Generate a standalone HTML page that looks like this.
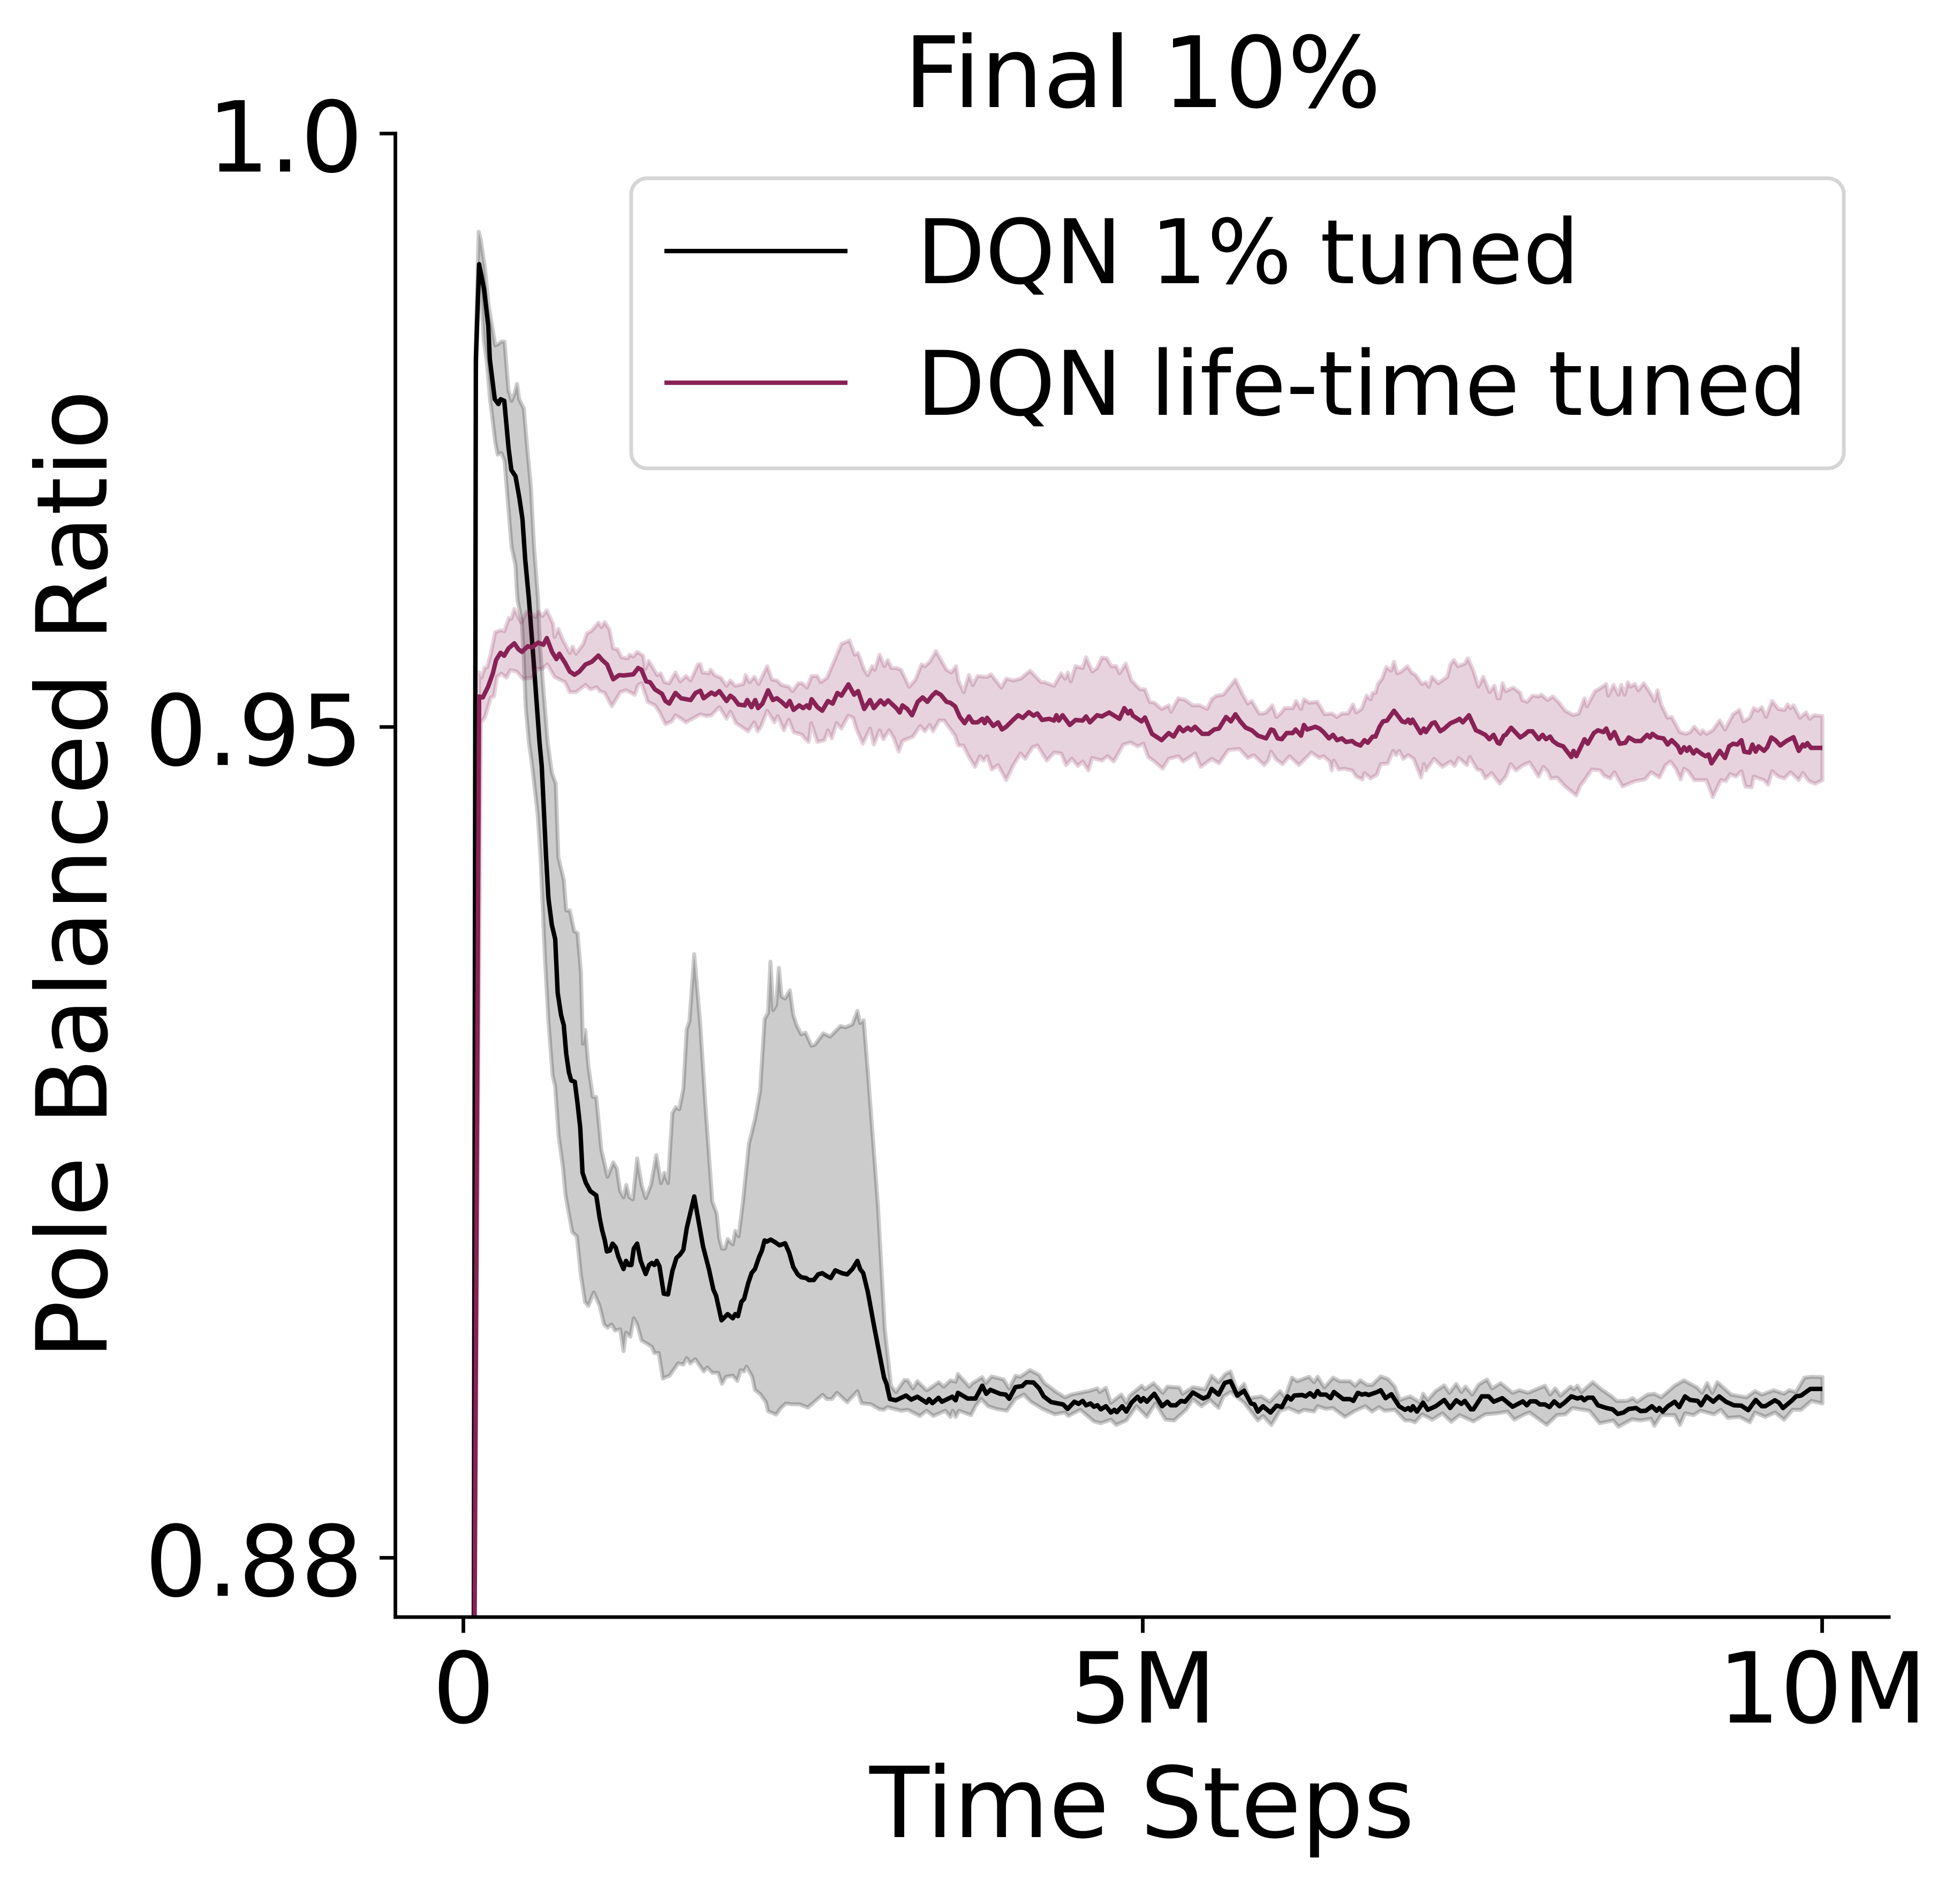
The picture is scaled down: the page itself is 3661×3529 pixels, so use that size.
<!DOCTYPE html>
<html lang="en">
<head>
<meta charset="utf-8">
<title>Final 10%</title>
<style>
html,body{margin:0;padding:0;background:#fff;width:3661px;height:3529px;overflow:hidden}
svg{display:block}
text{font-family:"DejaVu Sans","Liberation Sans",sans-serif;fill:#000}
</style>
</head>
<body>
<svg id="chart" xmlns="http://www.w3.org/2000/svg" width="3661" height="3529" viewBox="0 0 3661 3529">
<defs><clipPath id="plot-clip"><rect x="738" y="249" width="2790" height="2772"/></clipPath></defs>
<rect x="0" y="0" width="3661" height="3529" fill="#fff"/>
<g id="series" clip-path="url(#plot-clip)"></g>
<g id="axes"></g>
<text x="2134" y="200" font-size="184" text-anchor="middle">Final 10%</text>
<text x="2133" y="3432" font-size="183" text-anchor="middle">Time Steps</text>
<text x="0" y="0" transform="translate(199,1634) rotate(-90)" font-size="183" text-anchor="middle">Pole Balanced Ratio</text>
<g>
<rect x="1179" y="333" width="2265" height="542" rx="30" ry="30" fill="#fff" fill-opacity="0.8" stroke="#d5d5d5" stroke-width="7"/>
<line x1="1241" y1="469" x2="1583" y2="469" stroke="#000" stroke-width="8.3"/>
<text x="1712" y="529" font-size="166.5">DQN 1% tuned</text>
<line x1="1241" y1="715" x2="1583" y2="715" stroke="#882255" stroke-width="8.3"/>
<text x="1712" y="775" font-size="166.5">DQN life-time tuned</text>
</g>
</svg>
<script>
// Tick data: time steps in millions, y values as ratios
var xTickValues = [0, 5, 10];
var xTickLabels = ["0", "5M", "10M"];
var yTickValues = [1.0, 0.95, 0.88];
var yTickLabels = ["1.0", "0.95", "0.88"];

// Each series: [time steps in millions, pole balanced ratio]
var meanOnePercent = [[.075,.87405],[.09,.981],[.114,.98899],[.15,.98691],[.181,.9838],[.193,.98096],[.229,.97762],[.256,.97721],[.272,.97762],[.299,.97748],[.331,.97346],[.351,.97166],[.382,.97112],[.41,.96931],[.433,.96751],[.453,.96412],[.481,.96069],[.516,.95541],[.536,.95225],[.559,.94864],[.575,.9467],[.607,.93903],[.624,.93558],[.649,.93333],[.674,.93212],[.692,.92763],[.717,.92574],[.737,.92487],[.755,.92246],[.775,.9209],[.792,.92021],[.818,.92011],[.838,.91831],[.858,.91624],[.875,.91244],[.9,.91158],[.933,.91089],[.976,.91054],[1.001,.90864],[1.019,.90761],[1.039,.90674],[1.054,.90581],[1.076,.90588],[1.096,.90647],[1.119,.90616],[1.139,.90536],[1.177,.90433],[1.195,.90502],[1.215,.90467],[1.235,.90467],[1.252,.90605],[1.277,.90647],[1.303,.90502],[1.34,.90391],[1.365,.90467],[1.385,.90485],[1.403,.90467],[1.421,.90502],[1.441,.90457],[1.473,.90225],[1.504,.90219],[1.536,.90415],[1.566,.90526],[1.592,.90554],[1.617,.90595],[1.642,.90778],[1.697,.91044],[1.73,.9083],[1.762,.90623],[1.805,.90433],[1.838,.9026],[1.858,.90208],[1.898,.90001],[1.943,.90053],[1.981,.90018],[1.999,.90053],[2.019,.90036],[2.044,.90156],[2.064,.90181],[2.094,.90312],[2.119,.90398],[2.144,.90433],[2.175,.90536],[2.195,.90588],[2.215,.90674],[2.232,.90664],[2.26,.90681],[2.295,.90657],[2.325,.90633],[2.366,.9065],[2.396,.90571],[2.426,.9045],[2.459,.90388],[2.484,.90364],[2.521,.90357],[2.541,.9034],[2.577,.9034],[2.609,.90388],[2.64,.90398],[2.672,.90374],[2.702,.90357],[2.735,.90422],[2.785,.90398],[2.823,.90388],[2.861,.90433],[2.898,.90502],[2.918,.90433],[2.941,.90398],[2.974,.90243],[3.024,.89932],[3.094,.89518],[3.112,.89466],[3.137,.89338],[3.181,.89327],[3.256,.89367],[3.294,.89333],[3.339,.89357],[3.407,.89307],[3.425,.89337],[3.45,.89303],[3.495,.89348],[3.52,.89315],[3.596,.89357],[3.621,.89327],[3.638,.8939],[3.709,.89342],[3.767,.89342],[3.817,.8945],[3.847,.89382],[3.877,.89415],[3.947,.89382],[3.99,.89375],[4.015,.8934],[4.061,.89438],[4.111,.89447],[4.141,.8948],[4.194,.89477],[4.236,.89427],[4.269,.8936],[4.324,.89312],[4.412,.89292],[4.445,.89254],[4.495,.89315],[4.525,.89297],[4.556,.89322],[4.581,.89285],[4.613,.893],[4.639,.89273],[4.664,.89285],[4.689,.89251],[4.727,.89277],[4.764,.89224],[4.789,.89247],[4.807,.89227],[4.847,.89277],[4.877,.89232],[4.915,.89307],[4.96,.89357],[4.983,.89318],[5.003,.89345],[5.028,.89315],[5.083,.89382],[5.141,.89277],[5.179,.89315],[5.204,.89285],[5.242,.89285],[5.279,.89322],[5.31,.89315],[5.367,.89393],[5.443,.89342],[5.48,.8936],[5.505,.89423],[5.556,.89375],[5.601,.89473],[5.644,.89488],[5.694,.89367],[5.744,.89408],[5.795,.893],[5.82,.89292],[5.845,.89232],[5.883,.89277],[5.938,.89224],[5.983,.89282],[6.021,.8927],[6.063,.8936],[6.089,.89333],[6.114,.89367],[6.171,.89372],[6.197,.8936],[6.229,.89387],[6.259,.89357],[6.285,.89405],[6.305,.89375],[6.347,.89375],[6.38,.89345],[6.405,.89397],[6.473,.89337],[6.523,.89337],[6.548,.89322],[6.581,.8939],[6.611,.89375],[6.636,.89382],[6.661,.89372],[6.724,.89397],[6.749,.89412],[6.785,.89345],[6.828,.89378],[6.885,.89277],[6.928,.89247],[6.953,.89262],[6.971,.89242],[6.986,.89277],[7.016,.89232],[7.061,.89307],[7.096,.89247],[7.154,.89277],[7.217,.8933],[7.26,.89262],[7.305,.89327],[7.343,.89297],[7.368,.89322],[7.413,.89251],[7.431,.89251],[7.493,.8936],[7.544,.8936],[7.581,.89315],[7.644,.89345],[7.72,.89273],[7.795,.89318],[7.825,.89285],[7.85,.89318],[7.891,.89318],[7.921,.89292],[7.958,.89292],[7.991,.8927],[8.026,.89318],[8.066,.89277],[8.102,.89307],[8.152,.8936],[8.197,.89342],[8.227,.89352],[8.247,.89327],[8.272,.89349],[8.31,.89349],[8.348,.89285],[8.411,.89262],[8.456,.89251],[8.494,.89212],[8.536,.89224],[8.574,.89254],[8.629,.89262],[8.662,.89236],[8.7,.89239],[8.745,.89277],[8.78,.89239],[8.8,.89262],[8.825,.89232],[8.863,.89277],[8.913,.89315],[8.946,.8927],[8.989,.8936],[9.026,.8933],[9.082,.89322],[9.107,.89285],[9.147,.8936],[9.197,.89315],[9.24,.8936],[9.29,.89315],[9.348,.89285],[9.403,.89282],[9.454,.89244],[9.509,.8933],[9.554,.89277],[9.579,.89277],[9.65,.89327],[9.68,.89307],[9.71,.89262],[9.78,.8933],[9.805,.8936],[9.843,.89367],[9.911,.89423],[10,.89423]];

var upperOnePercent = [[.075,.87405],[.09,.983],[.111,.99172],[.126,.99107],[.156,.98874],[.183,.98563],[.201,.98434],[.233,.98214],[.255,.98227],[.278,.98247],[.301,.98247],[.33,.97838],[.353,.97748],[.375,.97812],[.393,.9789],[.409,.97761],[.443,.97683],[.466,.97372],[.495,.97022],[.518,.96517],[.548,.96069],[.56,.95722],[.587,.95316],[.619,.94864],[.65,.94612],[.678,.94521],[.697,.93903],[.737,.93713],[.755,.93454],[.782,.93454],[.813,.93281],[.838,.93264],[.863,.92936],[.878,.92332],[.895,.92446],[.918,.92142],[.951,.91883],[.976,.91883],[1.014,.91434],[1.059,.9121],[1.102,.91331],[1.127,.91279],[1.152,.91089],[1.177,.91037],[1.197,.91141],[1.22,.91037],[1.245,.9102],[1.277,.91365],[1.31,.91141],[1.34,.9103],[1.378,.91141],[1.418,.91393],[1.453,.91158],[1.478,.91244],[1.504,.91158],[1.536,.91745],[1.561,.91797],[1.587,.91779],[1.617,.91952],[1.642,.92453],[1.662,.92522],[1.697,.93085],[1.742,.92487],[1.78,.91797],[1.83,.91002],[1.863,.90899],[1.881,.90692],[1.901,.90605],[1.923,.90605],[1.943,.90685],[1.981,.9064],[1.999,.90754],[2.024,.90709],[2.056,.91002],[2.099,.91486],[2.144,.91693],[2.182,.91935],[2.215,.92539],[2.24,.92591],[2.258,.93023],[2.278,.92615],[2.3,.9266],[2.32,.92971],[2.34,.92729],[2.366,.92712],[2.401,.92781],[2.426,.92574],[2.451,.92487],[2.484,.92411],[2.516,.92425],[2.559,.92315],[2.584,.92322],[2.647,.92418],[2.697,.92391],[2.735,.92435],[2.773,.9248],[2.81,.9247],[2.861,.92494],[2.898,.92608],[2.918,.92505],[2.944,.92529],[2.974,.92107],[3.049,.90968],[3.099,.89932],[3.145,.89449],[3.181,.89397],[3.244,.89498],[3.269,.89495],[3.307,.89427],[3.339,.89488],[3.407,.89412],[3.432,.89427],[3.495,.8948],[3.533,.89442],[3.583,.89495],[3.621,.89483],[3.638,.89548],[3.721,.89442],[3.746,.89472],[3.817,.89522],[3.842,.89472],[3.885,.89528],[3.973,.89503],[4.015,.89427],[4.061,.89533],[4.098,.89525],[4.168,.89582],[4.236,.8954],[4.274,.89472],[4.319,.89435],[4.362,.89397],[4.425,.89352],[4.47,.89375],[4.563,.89397],[4.601,.89405],[4.664,.89427],[4.681,.89397],[4.727,.89432],[4.764,.89307],[4.84,.89375],[4.877,.89307],[4.902,.89367],[4.99,.8945],[5.015,.8942],[5.078,.89472],[5.146,.8939],[5.179,.89442],[5.267,.89435],[5.292,.89382],[5.367,.89438],[5.457,.8942],[5.505,.89533],[5.556,.8948],[5.606,.89548],[5.644,.8957],[5.694,.89405],[5.744,.89465],[5.782,.89345],[5.87,.8936],[5.933,.89315],[6.008,.89405],[6.046,.89352],[6.096,.89518],[6.134,.89488],[6.222,.89525],[6.259,.8948],[6.285,.89525],[6.335,.89435],[6.398,.89518],[6.448,.89488],[6.523,.89488],[6.561,.8945],[6.599,.89495],[6.649,.89457],[6.687,.89457],[6.749,.89528],[6.802,.89507],[6.853,.89442],[6.89,.8933],[6.966,.8936],[7.041,.89307],[7.061,.89382],[7.096,.8933],[7.154,.89405],[7.217,.89453],[7.255,.8939],[7.305,.89465],[7.343,.89397],[7.373,.89442],[7.423,.89375],[7.468,.89457],[7.531,.89502],[7.569,.89427],[7.632,.89472],[7.72,.8939],[7.77,.89412],[7.833,.8939],[7.958,.8945],[7.996,.89375],[8.034,.89427],[8.072,.89367],[8.147,.89442],[8.172,.8942],[8.197,.8945],[8.227,.89397],[8.31,.8948],[8.373,.8942],[8.448,.8936],[8.486,.89322],[8.562,.89322],[8.604,.89345],[8.637,.89315],[8.675,.89345],[8.713,.89375],[8.763,.89382],[8.813,.89352],[8.913,.8945],[8.981,.89495],[9.077,.89435],[9.114,.8939],[9.152,.89472],[9.19,.8939],[9.227,.8948],[9.328,.89375],[9.441,.89352],[9.504,.89405],[9.554,.89375],[9.642,.89412],[9.717,.89382],[9.755,.89412],[9.805,.89397],[9.868,.89518],[9.918,.89525],[10,.89522]];

var lowerOnePercent = [[.075,.87405],[.09,.979],[.114,.989],[.149,.98255],[.171,.98071],[.194,.97761],[.217,.97553],[.233,.97398],[.251,.97295],[.278,.97308],[.301,.97242],[.323,.96932],[.353,.96517],[.382,.96362],[.391,.9616],[.397,.96069],[.429,.9588],[.441,.95618],[.457,.95167],[.481,.94864],[.5,.94715],[.545,.94264],[.566,.93903],[.599,.9304],[.624,.92522],[.654,.92073],[.674,.91969],[.699,.91555],[.732,.91279],[.75,.91054],[.78,.90864],[.8,.90743],[.833,.90709],[.863,.90381],[.893,.90156],[.918,.90122],[.958,.90236],[1.001,.90122],[1.034,.89966],[1.059,.89939],[1.089,.89966],[1.114,.89915],[1.152,.89925],[1.177,.89742],[1.195,.89897],[1.227,.89863],[1.252,.90018],[1.277,.89966],[1.31,.89829],[1.34,.89811],[1.386,.89777],[1.403,.89725],[1.436,.89725],[1.466,.89511],[1.516,.89535],[1.579,.89638],[1.617,.89628],[1.642,.89683],[1.667,.89638],[1.705,.89673],[1.767,.8957],[1.793,.89604],[1.83,.89559],[1.873,.89559],[1.901,.89466],[1.931,.89525],[1.981,.89535],[2.014,.8949],[2.039,.8958],[2.064,.8957],[2.082,.89611],[2.124,.89525],[2.144,.89414],[2.182,.8938],[2.225,.89311],[2.24,.89235],[2.3,.89207],[2.333,.89259],[2.371,.893],[2.421,.89293],[2.471,.89293],[2.534,.89266],[2.642,.89373],[2.672,.89338],[2.71,.89338],[2.748,.8939],[2.823,.8931],[2.898,.89403],[2.928,.89303],[2.998,.89293],[3.059,.89252],[3.092,.89247],[3.119,.8927],[3.219,.89239],[3.269,.89247],[3.357,.89195],[3.407,.89239],[3.457,.89195],[3.545,.89239],[3.583,.89187],[3.6,.89239],[3.621,.89187],[3.646,.89239],[3.734,.89202],[3.771,.89285],[3.809,.89337],[3.86,.89277],[3.922,.89254],[3.998,.89239],[4.06,.89337],[4.123,.89375],[4.174,.89315],[4.262,.89254],[4.35,.89209],[4.425,.89224],[4.45,.89195],[4.538,.89247],[4.639,.89149],[4.689,.89134],[4.764,.89164],[4.802,.89119],[4.877,.89157],[4.952,.89277],[5.028,.89187],[5.091,.893],[5.166,.89164],[5.229,.89157],[5.317,.89247],[5.367,.89337],[5.43,.89277],[5.493,.8933],[5.556,.89262],[5.593,.8936],[5.644,.89397],[5.744,.89307],[5.845,.89157],[5.883,.89195],[5.945,.89119],[6.008,.89239],[6.071,.89262],[6.146,.89224],[6.184,.89247],[6.259,.89232],[6.285,.89277],[6.347,.89254],[6.397,.89262],[6.486,.89187],[6.561,.89239],[6.636,.89277],[6.686,.89232],[6.736,.89269],[6.778,.89239],[6.853,.89247],[6.928,.89157],[6.966,.89157],[7.003,.89142],[7.054,.89209],[7.129,.89164],[7.204,.89217],[7.268,.89146],[7.33,.89202],[7.431,.89149],[7.519,.89209],[7.606,.89217],[7.682,.89232],[7.732,.89164],[7.808,.89209],[7.845,.89224],[7.971,.89119],[8.046,.89202],[8.109,.89209],[8.159,.89262],[8.285,.89239],[8.36,.89134],[8.461,.89157],[8.499,.89104],[8.599,.89167],[8.662,.89157],[8.737,.89172],[8.763,.89112],[8.813,.89202],[8.913,.89202],[8.951,.89119],[8.989,.89217],[9.052,.89202],[9.102,.89239],[9.202,.89209],[9.252,.89247],[9.303,.89179],[9.391,.89187],[9.466,.89142],[9.504,.89224],[9.579,.89187],[9.652,.89224],[9.718,.89164],[9.78,.89247],[9.843,.89247],[9.919,.89322],[10,.893]];

var meanLifetime = [[.0804,.87405],[.114,.95257],[.141,.95249],[.18,.9534],[.215,.95452],[.239,.95565],[.272,.95625],[.298,.956],[.331,.95663],[.373,.95705],[.403,.95655],[.429,.95633],[.473,.95681],[.502,.9567],[.548,.95711],[.587,.95693],[.612,.95749],[.651,.95632],[.683,.95572],[.704,.95617],[.746,.95542],[.781,.95467],[.816,.9544],[.852,.95467],[.897,.95527],[.943,.95549],[.992,.95602],[1.02,.95564],[1.056,.95527],[1.101,.95402],[1.144,.95437],[1.179,.95434],[1.249,.95444],[1.284,.95497],[1.309,.95482],[1.344,.95384],[1.372,.95377],[1.408,.95317],[1.46,.95279],[1.485,.95219],[1.513,.95197],[1.559,.95287],[1.601,.95242],[1.671,.95227],[1.707,.95287],[1.742,.95305],[1.766,.95242],[1.823,.9529],[1.851,.95272],[1.882,.95302],[1.935,.95219],[1.963,.95264],[1.988,.95242],[2.023,.95189],[2.069,.95182],[2.087,.95227],[2.118,.95167],[2.146,.95227],[2.167,.95159],[2.199,.95197],[2.241,.95309],[2.276,.95227],[2.305,.95242],[2.34,.95212],[2.375,.95174],[2.4,.95219],[2.428,.95144],[2.47,.95182],[2.498,.95159],[2.526,.95182],[2.544,.95159],[2.561,.95234],[2.604,.95167],[2.639,.95137],[2.681,.95219],[2.716,.95197],[2.751,.95287],[2.78,.95264],[2.832,.95359],[2.874,.95272],[2.903,.95302],[2.948,.95152],[2.991,.95227],[3.019,.95159],[3.068,.95224],[3.096,.95189],[3.124,.95224],[3.184,.95159],[3.209,.95122],[3.23,.95182],[3.265,.95152],[3.3,.95099],[3.342,.95212],[3.378,.95249],[3.413,.95212],[3.448,.95264],[3.476,.95294],[3.511,.95272],[3.554,.95212],[3.582,.95204],[3.617,.95174],[3.652,.95084],[3.687,.95032],[3.719,.95089],[3.747,.95039],[3.782,.95039],[3.817,.95069],[3.835,.95032],[3.852,.95077],[3.898,.95009],[3.933,.95039],[3.962,.94979],[3.993,.95002],[4.046,.95062],[4.081,.95099],[4.116,.95077],[4.159,.95125],[4.194,.95095],[4.222,.95114],[4.257,.95059],[4.31,.95069],[4.345,.95054],[4.363,.95099],[4.38,.95054],[4.408,.95099],[4.461,.95017],[4.503,.95059],[4.556,.95054],[4.581,.95089],[4.609,.95039],[4.662,.95099],[4.697,.95089],[4.75,.95122],[4.827,.95069],[4.862,.95159],[4.89,.95114],[4.908,.95137],[4.926,.95095],[4.989,.95047],[5.014,.9508],[5.066,.94942],[5.137,.94889],[5.189,.94949],[5.225,.94919],[5.267,.94999],[5.295,.94964],[5.33,.94994],[5.355,.94972],[5.383,.95002],[5.436,.94942],[5.481,.94942],[5.524,.94979],[5.559,.94987],[5.611,.95084],[5.647,.95047],[5.68,.95107],[5.716,.95047],[5.756,.94994],[5.801,.94972],[5.846,.94927],[5.906,.94904],[5.942,.94979],[5.961,.94972],[5.991,.94904],[6.021,.94897],[6.057,.94949],[6.102,.94949],[6.123,.94979],[6.163,.94927],[6.184,.95017],[6.208,.94979],[6.238,.9499],[6.268,.95002],[6.298,.94987],[6.328,.94957],[6.368,.94904],[6.398,.94934],[6.428,.94889],[6.464,.94904],[6.494,.94874],[6.539,.94882],[6.564,.94859],[6.6,.94844],[6.63,.94889],[6.654,.94867],[6.69,.94919],[6.711,.94919],[6.741,.95002],[6.766,.95047],[6.796,.95054],[6.847,.95137],[6.877,.95092],[6.907,.95047],[6.931,.95039],[6.952,.95062],[6.968,.95032],[6.983,.95062],[7.043,.94949],[7.067,.94987],[7.082,.94957],[7.127,.95032],[7.148,.95039],[7.188,.94964],[7.218,.94987],[7.263,.95032],[7.308,.95054],[7.329,.95069],[7.353,.95039],[7.399,.95099],[7.45,.94972],[7.48,.94957],[7.519,.94934],[7.549,.94897],[7.58,.94934],[7.61,.94867],[7.625,.94859],[7.655,.94927],[7.67,.94934],[7.709,.94994],[7.776,.94912],[7.806,.94934],[7.836,.94964],[7.866,.94964],[7.911,.94897],[7.941,.94934],[7.966,.94897],[7.996,.94919],[8.017,.94882],[8.053,.94852],[8.092,.94837],[8.152,.94747],[8.168,.94799],[8.189,.94754],[8.249,.94897],[8.273,.94859],[8.318,.94949],[8.348,.94972],[8.388,.94957],[8.409,.94987],[8.439,.94904],[8.469,.94957],[8.508,.94859],[8.55,.94867],[8.575,.94912],[8.62,.94882],[8.665,.94882],[8.71,.94934],[8.731,.94912],[8.749,.94942],[8.786,.94912],[8.831,.94904],[8.861,.94852],[8.891,.94889],[8.936,.94837],[8.957,.94784],[8.982,.94829],[9.003,.94799],[9.021,.94829],[9.051,.94777],[9.072,.94807],[9.117,.94769],[9.141,.94754],[9.162,.94769],[9.184,.94694],[9.244,.94799],[9.283,.94739],[9.313,.94837],[9.343,.94859],[9.374,.94852],[9.404,.94889],[9.425,.94792],[9.464,.94784],[9.485,.94852],[9.509,.94792],[9.53,.94837],[9.57,.94799],[9.594,.94829],[9.624,.94912],[9.654,.94889],[9.69,.94844],[9.735,.94882],[9.787,.94914],[9.826,.94799],[9.856,.94852],[9.871,.94837],[9.889,.94864],[9.916,.94824],[10,.94824]];

var upperLifetime = [[.0804,.87405],[.114,.9546],[.131,.95415],[.154,.95497],[.173,.95505],[.2,.95618],[.232,.95798],[.276,.95816],[.298,.95806],[.334,.95919],[.351,.95911],[.373,.95994],[.423,.95881],[.465,.95971],[.495,.95961],[.528,.95925],[.551,.95971],[.58,.95934],[.612,.95983],[.658,.95869],[.669,.95759],[.697,.95827],[.732,.95729],[.781,.95624],[.802,.95677],[.827,.95617],[.88,.95699],[.908,.95789],[.943,.95812],[.992,.95879],[1.014,.95842],[1.038,.95884],[1.073,.95822],[1.101,.95662],[1.133,.95654],[1.161,.95587],[1.207,.95579],[1.221,.95609],[1.249,.95594],[1.277,.95632],[1.32,.95602],[1.337,.95489],[1.362,.95557],[1.425,.95437],[1.45,.95452],[1.478,.95377],[1.513,.95369],[1.559,.95459],[1.594,.95384],[1.636,.95429],[1.671,.95392],[1.724,.95527],[1.742,.95529],[1.759,.95459],[1.802,.95452],[1.819,.95482],[1.847,.95437],[1.893,.95414],[1.935,.95347],[1.963,.95392],[1.998,.95347],[2.058,.95362],[2.076,.95437],[2.104,.95377],[2.139,.95422],[2.171,.95362],[2.234,.95512],[2.269,.95399],[2.305,.95392],[2.34,.95354],[2.393,.95339],[2.421,.95302],[2.463,.95369],[2.491,.95369],[2.526,.95332],[2.561,.95429],[2.604,.95429],[2.628,.95377],[2.674,.95414],[2.78,.95699],[2.84,.95729],[2.878,.95609],[2.903,.95624],[2.948,.95482],[2.973,.95437],[3.008,.95512],[3.026,.95482],[3.061,.95609],[3.096,.95512],[3.121,.95564],[3.149,.95497],[3.184,.95497],[3.219,.95482],[3.279,.95339],[3.325,.95399],[3.37,.95527],[3.395,.95512],[3.43,.95549],[3.476,.95639],[3.554,.95482],[3.589,.95459],[3.624,.95512],[3.641,.95392],[3.68,.95294],[3.719,.95437],[3.747,.95354],[3.782,.95429],[3.852,.95422],[3.881,.95444],[3.958,.95332],[3.993,.95407],[4.046,.95392],[4.099,.95407],[4.169,.95474],[4.25,.95377],[4.275,.95377],[4.345,.95347],[4.398,.95452],[4.426,.95407],[4.447,.95459],[4.468,.95384],[4.503,.95512],[4.556,.95497],[4.581,.95587],[4.627,.95467],[4.662,.95497],[4.697,.95584],[4.732,.95579],[4.768,.95512],[4.803,.95512],[4.827,.95452],[4.873,.95534],[4.915,.95392],[4.979,.95317],[5.014,.95317],[5.049,.95212],[5.084,.95204],[5.137,.95152],[5.189,.95182],[5.206,.95129],[5.26,.95242],[5.312,.95227],[5.365,.95182],[5.418,.95182],[5.471,.95152],[5.506,.95234],[5.541,.95264],[5.591,.95272],[5.68,.95399],[5.734,.95272],[5.771,.95197],[5.801,.95219],[5.855,.95114],[5.882,.95114],[5.906,.95122],[5.951,.95182],[5.982,.95084],[6.012,.95114],[6.042,.95159],[6.102,.95159],[6.126,.95219],[6.163,.95152],[6.184,.95234],[6.223,.95204],[6.283,.95212],[6.337,.95107],[6.389,.95114],[6.428,.95084],[6.464,.95114],[6.509,.95114],[6.545,.95189],[6.57,.95122],[6.609,.95152],[6.645,.95264],[6.675,.95234],[6.69,.95287],[6.711,.95287],[6.729,.95362],[6.76,.95407],[6.79,.95504],[6.826,.95474],[6.847,.95549],[6.871,.95452],[6.901,.95467],[6.946,.95512],[6.977,.95459],[7.007,.95437],[7.052,.95362],[7.082,.95377],[7.103,.95339],[7.127,.95422],[7.173,.95369],[7.239,.95422],[7.263,.95527],[7.287,.95564],[7.317,.95512],[7.369,.95534],[7.39,.95579],[7.429,.95482],[7.468,.95339],[7.504,.95422],[7.55,.95294],[7.586,.95347],[7.61,.95242],[7.625,.95242],[7.646,.95369],[7.67,.95302],[7.724,.95332],[7.776,.95287],[7.791,.95227],[7.827,.95212],[7.866,.95264],[7.911,.95257],[7.932,.95272],[7.977,.95227],[8.017,.95257],[8.062,.95204],[8.107,.95137],[8.168,.951],[8.207,.95114],[8.249,.95242],[8.267,.95174],[8.327,.95302],[8.363,.95324],[8.409,.95362],[8.424,.95264],[8.463,.95354],[8.499,.95272],[8.52,.95354],[8.544,.95272],[8.568,.95377],[8.589,.95339],[8.62,.95362],[8.644,.95309],[8.686,.95369],[8.741,.95272],[8.765,.95219],[8.786,.95309],[8.816,.95182],[8.861,.95077],[8.891,.95084],[8.951,.94957],[8.996,.94942],[9.027,.94957],[9.057,.95002],[9.102,.94942],[9.117,.94972],[9.147,.94942],[9.192,.94972],[9.244,.95054],[9.283,.94979],[9.343,.95107],[9.389,.95144],[9.419,.95047],[9.464,.95077],[9.494,.95159],[9.524,.95137],[9.554,.95167],[9.585,.95084],[9.63,.95219],[9.675,.95152],[9.721,.95144],[9.744,.95189],[9.765,.95159],[9.787,.95182],[9.835,.95077],[9.88,.95122],[9.907,.95069],[9.937,.95099],[10,.95092]];

var lowerLifetime = [[.0804,.87405],[.127,.95031],[.16,.95091],[.2,.95249],[.223,.95257],[.246,.95422],[.278,.95449],[.315,.95415],[.344,.95479],[.39,.95467],[.436,.95407],[.502,.95415],[.541,.9549],[.58,.9549],[.616,.95528],[.669,.95422],[.746,.95377],[.781,.95294],[.827,.95294],[.897,.95354],[.933,.95317],[.978,.95335],[1.003,.95302],[1.038,.95287],[1.091,.95174],[1.154,.95294],[1.196,.95309],[1.26,.95272],[1.284,.95354],[1.309,.95369],[1.355,.95212],[1.408,.95182],[1.443,.95122],[1.485,.95024],[1.531,.95047],[1.559,.95099],[1.601,.95069],[1.636,.95039],[1.742,.95107],[1.788,.95092],[1.823,.95099],[1.882,.95167],[1.935,.95069],[1.963,.95129],[2.005,.95032],[2.094,.94964],[2.139,.95039],[2.164,.94964],[2.188,.95002],[2.234,.95137],[2.287,.95039],[2.312,.95092],[2.357,.94972],[2.393,.95062],[2.428,.94957],[2.491,.94934],[2.516,.94897],[2.54,.94874],[2.558,.95032],[2.604,.94874],[2.656,.94889],[2.681,.94972],[2.709,.94904],[2.744,.95032],[2.78,.94987],[2.832,.95095],[2.867,.95077],[2.892,.94979],[2.938,.94859],[2.991,.94987],[3.019,.94852],[3.061,.94972],[3.089,.94897],[3.131,.94972],[3.167,.94904],[3.202,.94792],[3.23,.94882],[3.307,.94919],[3.36,.95009],[3.395,.94964],[3.43,.95017],[3.455,.94964],[3.5,.95054],[3.536,.95054],[3.617,.94927],[3.641,.94844],[3.677,.94844],[3.712,.94762],[3.764,.94664],[3.8,.94754],[3.828,.94717],[3.852,.94754],[3.888,.94642],[3.933,.94679],[3.993,.94552],[4.046,.94679],[4.099,.94777],[4.134,.94732],[4.187,.94829],[4.222,.94844],[4.292,.94717],[4.345,.94784],[4.398,.94777],[4.433,.94679],[4.475,.94732],[4.521,.94672],[4.556,.94709],[4.598,.94634],[4.626,.94739],[4.697,.94717],[4.739,.94754],[4.785,.94709],[4.855,.94852],[4.908,.94869],[4.961,.94837],[5.003,.94859],[5.038,.94747],[5.084,.94709],[5.144,.94649],[5.189,.94732],[5.26,.94754],[5.295,.94709],[5.383,.94777],[5.425,.94664],[5.506,.94732],[5.559,.94694],[5.629,.94807],[5.71,.94814],[5.771,.94739],[5.816,.94762],[5.891,.94679],[5.921,.94717],[5.942,.94792],[5.982,.94724],[6.027,.94687],[6.078,.94754],[6.147,.94679],[6.238,.94784],[6.298,.94739],[6.328,.94754],[6.374,.94709],[6.389,.94634],[6.404,.94717],[6.44,.94642],[6.479,.94649],[6.539,.94634],[6.57,.94582],[6.615,.94559],[6.63,.94612],[6.675,.94567],[6.72,.94597],[6.75,.94687],[6.802,.94694],[6.841,.94799],[6.862,.94762],[6.886,.94799],[6.916,.94732],[6.952,.94762],[6.992,.94732],[7.046,.94574],[7.067,.94687],[7.082,.94634],[7.142,.94732],[7.203,.94664],[7.263,.94709],[7.293,.94672],[7.323,.94739],[7.384,.94679],[7.405,.94747],[7.459,.94642],[7.489,.94634],[7.519,.94567],[7.565,.94612],[7.625,.94522],[7.67,.94582],[7.706,.94687],[7.745,.94634],[7.797,.94679],[7.845,.94702],[7.911,.94582],[7.947,.94664],[7.978,.94627],[8.002,.94567],[8.047,.94574],[8.107,.94499],[8.189,.94424],[8.219,.94507],[8.249,.94552],[8.303,.94642],[8.364,.94634],[8.394,.94589],[8.439,.94567],[8.469,.94619],[8.529,.94499],[8.559,.94514],[8.62,.94544],[8.695,.94559],[8.74,.94619],[8.801,.94574],[8.846,.94679],[8.882,.94709],[8.921,.94649],[8.957,.94559],[8.982,.94649],[9.012,.94627],[9.057,.94552],[9.147,.94552],[9.193,.94409],[9.253,.94552],[9.289,.94544],[9.322,.94604],[9.364,.94582],[9.404,.94627],[9.434,.94499],[9.479,.94492],[9.494,.94582],[9.57,.94552],[9.6,.94514],[9.63,.94627],[9.675,.94582],[9.72,.94567],[9.766,.94619],[9.826,.94552],[9.856,.94612],[9.901,.94544],[9.946,.94522],[10,.94552]];

// Axis functions
function xScale(steps) { return 866 + steps * 253.8; }
function yScale(ratio) { return 249.5 + (1 - ratio) * 22173; }

var svgNS = 'http://www.w3.org/2000/svg';
var seriesGroup = document.getElementById('series');
var axesGroup = document.getElementById('axes');

function pathFrom(points) {
  var parts = [];
  for (var i = 0; i < points.length; i++) {
    parts.push((i ? 'L' : 'M') + xScale(points[i][0]).toFixed(2) + ' ' + yScale(points[i][1]).toFixed(2));
  }
  return parts.join(' ');
}

function drawBand(upper, lower, color, name) {
  var el = document.createElementNS(svgNS, 'path');
  el.setAttribute('d', pathFrom(upper.concat(lower.slice().reverse())) + ' Z');
  el.setAttribute('fill', color);
  el.setAttribute('fill-opacity', '0.2');
  el.setAttribute('stroke', color);
  el.setAttribute('stroke-opacity', '0.2');
  el.setAttribute('stroke-width', '7.5');
  el.setAttribute('stroke-linejoin', 'round');
  
  
  seriesGroup.appendChild(el);
}

function drawLine(points, color, name) {
  var el = document.createElementNS(svgNS, 'path');
  el.setAttribute('d', pathFrom(points));
  el.setAttribute('fill', 'none');
  el.setAttribute('stroke', color);
  el.setAttribute('stroke-width', '8.3');
  el.setAttribute('stroke-linejoin', 'round');
  
  
  seriesGroup.appendChild(el);
}

drawBand(upperOnePercent, lowerOnePercent, '#000000', 'band-dqn-1pct');
drawLine(meanOnePercent, '#000000', 'line-dqn-1pct');
drawBand(upperLifetime, lowerLifetime, '#882255', 'band-dqn-lifetime');
drawLine(meanLifetime, '#882255', 'line-dqn-lifetime');

function addLine(x1, y1, x2, y2, name, cap) {
  var el = document.createElementNS(svgNS, 'line');
  el.setAttribute('x1', x1);
  el.setAttribute('y1', y1);
  el.setAttribute('x2', x2);
  el.setAttribute('y2', y2);
  el.setAttribute('stroke', '#000');
  el.setAttribute('stroke-width', '6.8');
  el.setAttribute('stroke-linecap', cap);
  
  
  axesGroup.appendChild(el);
}

function addLabel(x, y, anchor, content, name) {
  var el = document.createElementNS(svgNS, 'text');
  el.setAttribute('x', x);
  el.setAttribute('y', y);
  el.setAttribute('font-size', '183');
  el.setAttribute('text-anchor', anchor);
  
  
  el.textContent = content;
  axesGroup.appendChild(el);
}

addLine(738.5, yScale(1), 738.5, 3021, 'y-axis-spine', 'square');
addLine(738.5, 3021, 3528, 3021, 'x-axis-spine', 'square');

yTickValues.forEach(function (v, i) {
  addLine(709, yScale(v), 738.5, yScale(v), 'y-tick-' + yTickLabels[i], 'butt');
  addLabel(678, yScale(v) + 71, 'end', yTickLabels[i], 'y-tick-label-' + yTickLabels[i]);
});
xTickValues.forEach(function (v, i) {
  addLine(xScale(v) - 0.5, 3021, xScale(v) - 0.5, 3050.5, 'x-tick-' + xTickLabels[i], 'butt');
  addLabel(xScale(v), 3218, 'middle', xTickLabels[i], 'x-tick-label-' + xTickLabels[i]);
});
</script>
</body>
</html>
